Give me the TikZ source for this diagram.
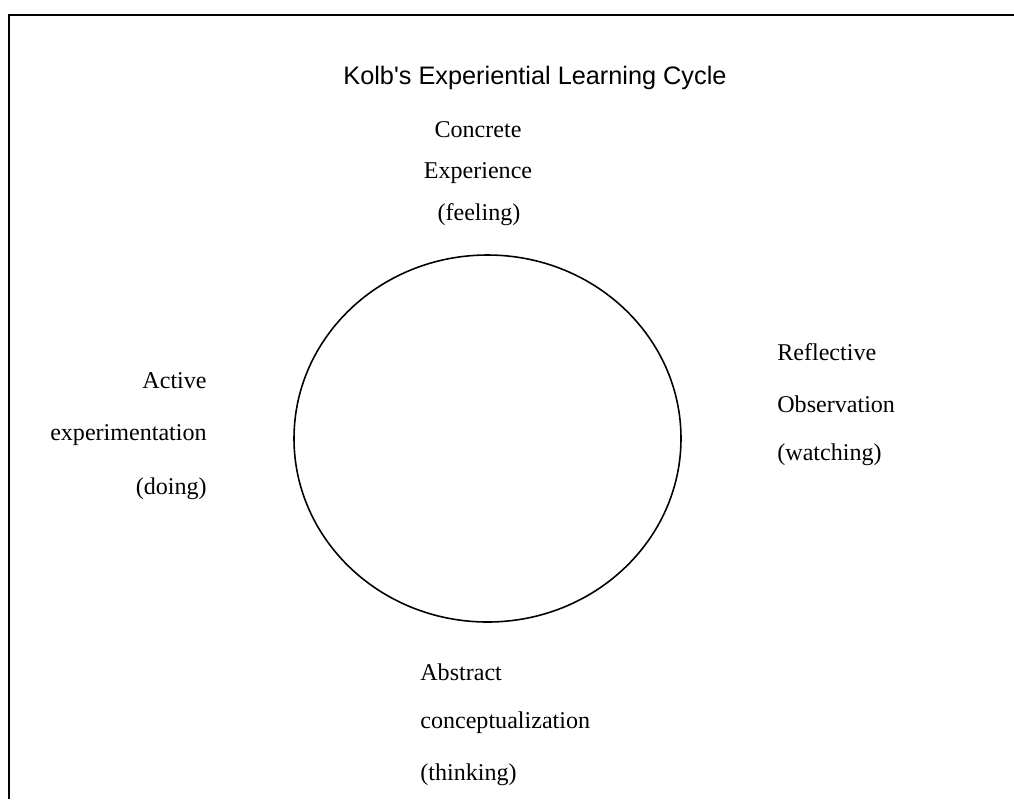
\documentclass[tikz,border=0pt]{standalone}
\usepackage{fontspec}
\setmainfont{Liberation Serif}
\newfontfamily\titlefont{Liberation Sans}
\begin{document}
\begin{tikzpicture}[x=0.02cm,y=-0.02cm,
  lbl/.style={inner sep=0pt,font=\fontsize{13.7pt}{16pt}\selectfont},
  ttl/.style={inner sep=0pt,font=\titlefont\fontsize{14.4pt}{17pt}\selectfont}]
\useasboundingbox[fill=white] (0,0) rectangle (1014,799);
% frame
\coordinate (fb) at (9,799);
\coordinate (ftl) at (9,15);
\coordinate (fr) at (1014,15);
\draw[line width=1.2pt] (fb) -- (ftl) -- (fr);
% circle
\coordinate (c) at (487.5,438.5);
\draw[line width=0.9pt] (c) ellipse [x radius=193.5, y radius=183.5];
% title
\node[ttl,anchor=base] (title) at (535,84) {Kolb's Experiential Learning Cycle};
% concrete experience
\node[lbl,anchor=base] (ce1) at (478,137) {Concrete};
\node[lbl,anchor=base] (ce2) at (478,178) {Experience};
\node[lbl,anchor=base] (ce3) at (479,220) {(feeling)};
% reflective observation
\node[lbl,anchor=base west] (ro1) at (777,360) {Reflective};
\node[lbl,anchor=base west] (ro2) at (777,412) {Observation};
\node[lbl,anchor=base west] (ro3) at (777,460) {(watching)};
% active experimentation
\node[lbl,anchor=base east] (ae1) at (207,388) {Active};
\node[lbl,anchor=base east] (ae2) at (207,440) {experimentation};
\node[lbl,anchor=base east] (ae3) at (207,494) {(doing)};
% abstract conceptualization
\node[lbl,anchor=base west] (ac1) at (420,680) {Abstract};
\node[lbl,anchor=base west] (ac2) at (420,728) {conceptualization};
\node[lbl,anchor=base west] (ac3) at (420,780) {(thinking)};
\end{tikzpicture}
\end{document}
